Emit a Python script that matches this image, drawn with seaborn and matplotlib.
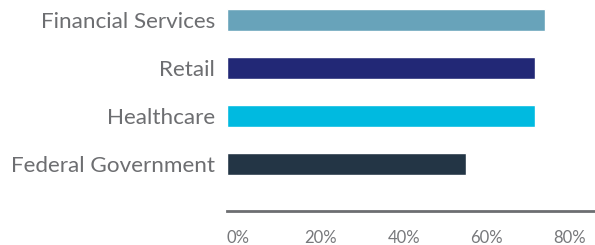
import pandas as pd
import matplotlib.pyplot as plt
import matplotlib.transforms as mtransforms
import seaborn as sns

# Data (share, %)
categories = ['Financial Services', 'Retail', 'Healthcare', 'Federal Government']
values = [76.6, 74.3, 74.3, 57.6]
bar_colors = ['#68a3ba', '#222876', '#00bae0', '#233545']
tick_values = [0, 20, 40, 60, 80]
tick_labels = ['0%', '20%', '40%', '60%', '80%']

df = pd.DataFrame({'Sector': categories, 'Share': values})

sns.set_style('white')
plt.rcParams['font.family'] = ['Lato', 'DejaVu Sans']

fig = plt.figure(figsize=(5.95, 2.45), dpi=100)
ax = fig.add_axes([227 / 595, 34 / 245, 368 / 595, 211 / 245])

sns.barplot(data=df, y='Sector', x='Share', hue='Sector', palette=bar_colors,
            orient='h', width=0.46, legend=False, ax=ax, saturation=1)

ax.set_xlim(0, 88.7)
ax.set_ylim(3.98, -0.42)
ax.set_xlabel('')
ax.set_ylabel('')

# Axis styling
for side in ['top', 'right', 'left']:
    ax.spines[side].set_visible(False)
ax.spines['bottom'].set_color('#6d6e71')
ax.spines['bottom'].set_linewidth(2)

ax.set_xticks(tick_values)
ax.set_xticklabels(tick_labels, fontsize=12, color='#77787b')
ax.tick_params(axis='x', length=0, pad=14)
ax.tick_params(axis='y', length=0, pad=8.5, labelsize=16.2, labelcolor='#6d6e71')

# Percent labels sit a little to the right of their ticks in the original
offset = mtransforms.ScaledTranslation(11 / 100, 0, fig.dpi_scale_trans)
for lbl in ax.get_xticklabels():
    lbl.set_transform(lbl.get_transform() + offset)

fig.savefig('out.png', dpi=100)
